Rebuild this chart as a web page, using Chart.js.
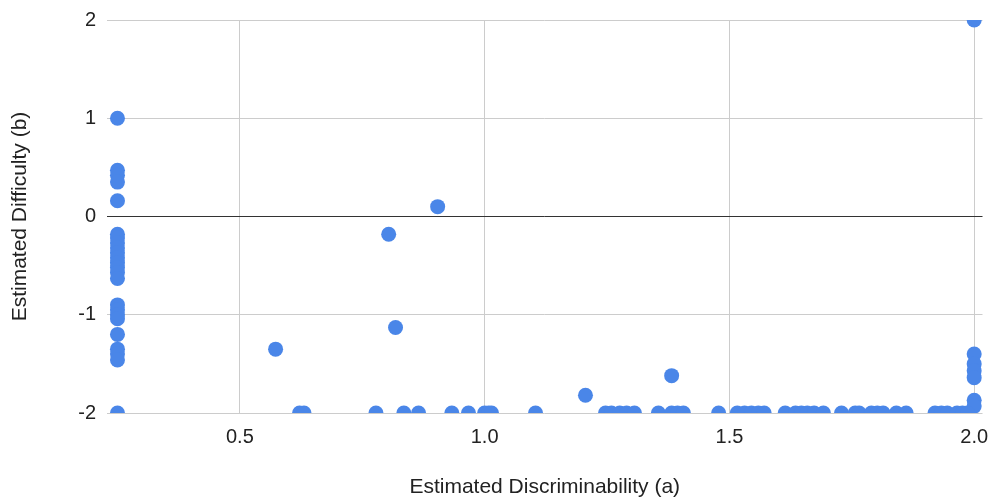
<!DOCTYPE html>
<html>
<head>
<meta charset="utf-8">
<script src="https://cdn.jsdelivr.net/npm/chart.js@4"></script>
<style>
  html, body { margin: 0; padding: 0; background: #fff; }
  #wrap { width: 990px; height: 500px; }
</style>
</head>
<body>
<div id="wrap"><canvas id="myChart" width="990" height="500"></canvas></div>
<script>
// estimated item parameters
// a = discriminability, b = difficulty (same index = same item)
const aValues = [
  // column at a = 0.25
  0.25, 0.25, 0.25, 0.25, 0.25, 0.25, 0.25, 0.25, 0.25, 0.25, 0.25, 0.25,
  0.25, 0.25, 0.25, 0.25, 0.25, 0.25, 0.25, 0.25, 0.25, 0.25, 0.25, 0.25,
  // scattered items
  0.573, 0.804, 0.818, 0.904, 1.206, 1.382,
  // column at a = 2.0
  2.0, 2.0, 2.0, 2.0, 2.0, 2.0, 2.0,
  // row at b = -2
  0.622, 0.631, 0.778, 0.835, 0.865, 0.933, 0.967, 1.0, 1.008, 1.014,
  1.104, 1.247, 1.259, 1.276, 1.29, 1.306, 1.355, 1.382, 1.394, 1.406,
  1.478, 1.516, 1.531, 1.545, 1.559, 1.571, 1.614, 1.635, 1.647, 1.659,
  1.673, 1.692, 1.729, 1.757, 1.765, 1.79, 1.802, 1.814, 1.841, 1.861,
  1.92, 1.933, 1.945, 1.965, 1.976, 1.986
];
const bValues = [
  1.0, 0.47, 0.42, 0.35, 0.16, -0.18, -0.22, -0.27, -0.32, -0.37, -0.42, -0.47,
  -0.52, -0.57, -0.63, -0.9, -0.95, -1.0, -1.04, -1.2, -1.35, -1.4, -1.46, -2.0,
  -1.35, -0.18, -1.13, 0.1, -1.82, -1.62,
  2.0, -1.4, -1.5, -1.57, -1.64, -1.87, -1.93,
  -2, -2, -2, -2, -2, -2, -2, -2, -2, -2,
  -2, -2, -2, -2, -2, -2, -2, -2, -2, -2,
  -2, -2, -2, -2, -2, -2, -2, -2, -2, -2,
  -2, -2, -2, -2, -2, -2, -2, -2, -2, -2,
  -2, -2, -2, -2, -2, -2
];
const xTicks = [0.5, 1.0, 1.5, 2.0];
const yTicks = [-2, -1, 0, 1, 2];

const points = aValues.map((a, i) => ({ x: a, y: bValues[i] }));

const tickFont = { family: "'Liberation Sans', Arial, sans-serif", size: 20 };
const titleFont = { family: "'Liberation Sans', Arial, sans-serif", size: 21 };
Chart.defaults.color = "#222";

const ctx = document.getElementById("myChart").getContext("2d");
const myChart = new Chart(ctx, {
  type: "scatter",
  data: {
    datasets: [
      {
        data: points,
        backgroundColor: "#4a86e8",
        borderWidth: 0,
        pointRadius: 7.5,
        pointHoverRadius: 7.5,
      },
    ],
  },
  options: {
    responsive: false,
    animation: false,
    layout: { padding: { top: 20, right: 0, left: 0, bottom: 0 } },
    plugins: { legend: { display: false }, tooltip: { enabled: false } },
    scales: {
      x: {
        type: "linear",
        min: 0.2286,
        max: 2.017,
        afterBuildTicks: (scale) => {
          scale.ticks = xTicks.map((v) => ({ value: v }));
        },
        afterFit: (scale) => {
          scale.height = 87;
          scale.paddingLeft = 0;
          scale.paddingRight = 0;
        },
        ticks: {
          font: tickFont,
          padding: 12,
          maxRotation: 0,
          callback: (v) => Number(v).toFixed(1),
        },
        grid: { color: "#cccccc", drawTicks: false },
        border: { display: false },
        title: {
          display: true,
          text: "Estimated Discriminability (a)",
          font: titleFont,
          padding: { bottom: 0 },
        },
      },
      y: {
        type: "linear",
        min: -2,
        max: 2,
        afterBuildTicks: (scale) => {
          scale.ticks = yTicks.map((v) => ({ value: v }));
        },
        afterFit: (scale) => {
          scale.width = 107;
          scale.paddingTop = 0;
          scale.paddingBottom = 0;
        },
        ticks: { font: tickFont, padding: 11 },
        grid: {
          color: (c) => (c.tick && c.tick.value === 0 ? "#333333" : "#cccccc"),
          drawTicks: false,
        },
        border: { display: false },
        title: {
          display: true,
          text: "Estimated Difficulty (b)",
          font: titleFont,
          padding: { top: 8 },
        },
      },
    },
  },
});
</script>
</body>
</html>
